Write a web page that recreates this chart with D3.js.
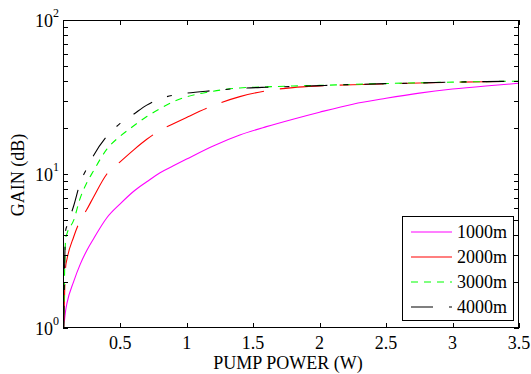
<!DOCTYPE html>
<html><head><meta charset="utf-8">
<script src="https://cdn.jsdelivr.net/npm/d3@7"></script>
<style>
html,body{margin:0;padding:0;background:#fff;}
text{font-family:'Liberation Serif','Times New Roman',Times,'DejaVu Serif',serif;}
</style></head>
<body>
<svg id="chart" width="531" height="374" style="display:block"></svg>
<script>
// ---- data ----
const power = [0.075, 0.09, 0.1, 0.15, 0.2, 0.25, 0.3, 0.4, 0.5, 0.6, 0.7, 0.8, 0.9, 1.0, 1.2, 1.4, 1.6, 1.8, 2.0, 2.25, 2.5, 2.75, 3.0, 3.25, 3.5];
const gain1000 = [1.0, 1.3, 1.45, 2.0, 2.6, 3.2, 3.8, 5.2, 6.4, 7.7, 8.9, 10.2, 11.3, 12.5, 15.2, 17.9, 20.3, 22.7, 25.2, 28.4, 31.0, 33.5, 35.6, 37.3, 38.8];
const gain2000 = [1.0, 2.5, 2.8, 3.9, 5.0, 5.9, 7.1, 10.0, 12.0, 14.3, 16.8, 19.2, 21.2, 23.3, 27.8, 31.8, 34.7, 36.4, 37.3, 38.0, 38.5, 39.0, 39.4, 39.7, 40.0];
const gain3000 = [1.0, 3.8, 4.1, 5.0, 7.0, 8.8, 10.5, 14.5, 17.6, 20.5, 23.6, 26.6, 29.5, 31.7, 34.5, 36.2, 36.8, 37.3, 37.6, 38.2, 38.7, 39.1, 39.5, 39.8, 40.1];
const gain4000 = [1.0, 4.3, 4.6, 6.2, 8.8, 10.9, 13.2, 17.6, 21.3, 24.4, 28.0, 30.8, 32.5, 33.5, 34.8, 36.0, 36.6, 37.0, 37.5, 38.1, 38.6, 39.0, 39.5, 39.8, 40.1];
const seriesNames = ["1000m", "2000m", "3000m", "4000m"];
const seriesColors = ["#ff00ff", "#ff0000", "#00ff00", "#000000"];
const seriesDash = [null, "44,16", "7,6", "22,16,5,16"];
const xTicks = [0.5, 1, 1.5, 2, 2.5, 3, 3.5];
const xTickLabels = ["0.5", "1", "1.5", "2", "2.5", "3", "3.5"];
const yMajor = [1, 10, 100];
const yExp = ["0", "1", "2"];
const xTitle = "PUMP POWER (W)";
const yTitle = "GAIN (dB)";

// ---- layout ----
const FONT = "'Liberation Serif', 'Times New Roman', Times, 'DejaVu Serif', serif";
const svg = d3.select("#chart");
const L = 63, R = 519, T = 20, B = 328;
const x = d3.scaleLinear().domain([0.07, 3.5]).range([L, R]);
const y = d3.scaleLog().domain([1, 100]).range([B, T]);

const gains = [gain1000, gain2000, gain3000, gain4000];

svg.append("defs").append("clipPath").attr("id", "clip")
  .append("rect").attr("x", L).attr("y", T).attr("width", R - L).attr("height", B - T);

const line = d3.line().x(d => x(d[0])).y(d => y(d[1])).curve(d3.curveMonotoneX);

const plot = svg.append("g").attr("clip-path", "url(#clip)");
gains.forEach((g, i) => {
  const pts = power.map((p, j) => [p, g[j]]);
  plot.append("path").attr("d", line(pts))
    .attr("fill", "none").attr("stroke", seriesColors[i]).attr("stroke-width", 1.1)
    .attr("stroke-dasharray", seriesDash[i]);
});

// axes ticks (inward, all sides)
const minor = [];
for (let d = 1; d < 100; d *= 10) for (let k = 2; k <= 9; k++) minor.push(d * k);
const axG = svg.append("g").attr("stroke", "#000").attr("stroke-width", 1);
xTicks.forEach(t => {
  const px = Math.round(x(t)) + 0.5;
  axG.append("line").attr("x1", px).attr("x2", px).attr("y1", B).attr("y2", B - 5);
  axG.append("line").attr("x1", px).attr("x2", px).attr("y1", T).attr("y2", T + 5);
});
yMajor.concat(minor).forEach(v => {
  const py = Math.round(y(v)) + 0.5;
  const len = 5;
  axG.append("line").attr("x1", L).attr("x2", L + len).attr("y1", py).attr("y2", py);
  axG.append("line").attr("x1", R).attr("x2", R - len).attr("y1", py).attr("y2", py);
});

// tick labels
xTicks.forEach((t, i) => {
  svg.append("text").attr("x", x(t)).attr("y", 349).attr("text-anchor", "middle")
    .attr("font-family", FONT).attr("font-size", 18).text(xTickLabels[i]);
});
yMajor.forEach((v, i) => {
  const tx = svg.append("text").attr("x", 59).attr("y", y(v) + 7).attr("text-anchor", "end")
    .attr("font-family", FONT).attr("font-size", 18);
  tx.append("tspan").text("10");
  tx.append("tspan").attr("dy", -10).attr("font-size", 12).text(yExp[i]);
});

// titles
svg.append("text").attr("x", (L + R) / 2 - 3).attr("y", 369).attr("text-anchor", "middle")
  .attr("font-family", FONT).attr("font-size", 18).text(xTitle);
svg.append("text").attr("transform", "translate(24,175) rotate(-90)").attr("text-anchor", "middle")
  .attr("font-family", FONT).attr("font-size", 18).text(yTitle);

// legend
const lg = svg.append("g");
lg.append("rect").attr("x", 402.5).attr("y", 216.5).attr("width", 111).attr("height", 104)
  .attr("fill", "#fff").attr("stroke", "#000").attr("stroke-width", 1);
seriesNames.forEach((n, i) => {
  const ly = 232 + i * 25;
  lg.append("line").attr("x1", 411).attr("x2", 452).attr("y1", ly).attr("y2", ly)
    .attr("stroke", seriesColors[i]).attr("stroke-width", 1.1).attr("stroke-dasharray", seriesDash[i]);
  lg.append("text").attr("x", 457).attr("y", ly + 6).attr("font-family", FONT)
    .attr("font-size", 18).text(n);
});

// box
svg.append("rect").attr("x", L + 0.5).attr("y", T + 0.5).attr("width", R - L - 1).attr("height", B - T - 1)
  .attr("fill", "none").attr("stroke", "#000").attr("stroke-width", 1);
</script>
</body></html>
